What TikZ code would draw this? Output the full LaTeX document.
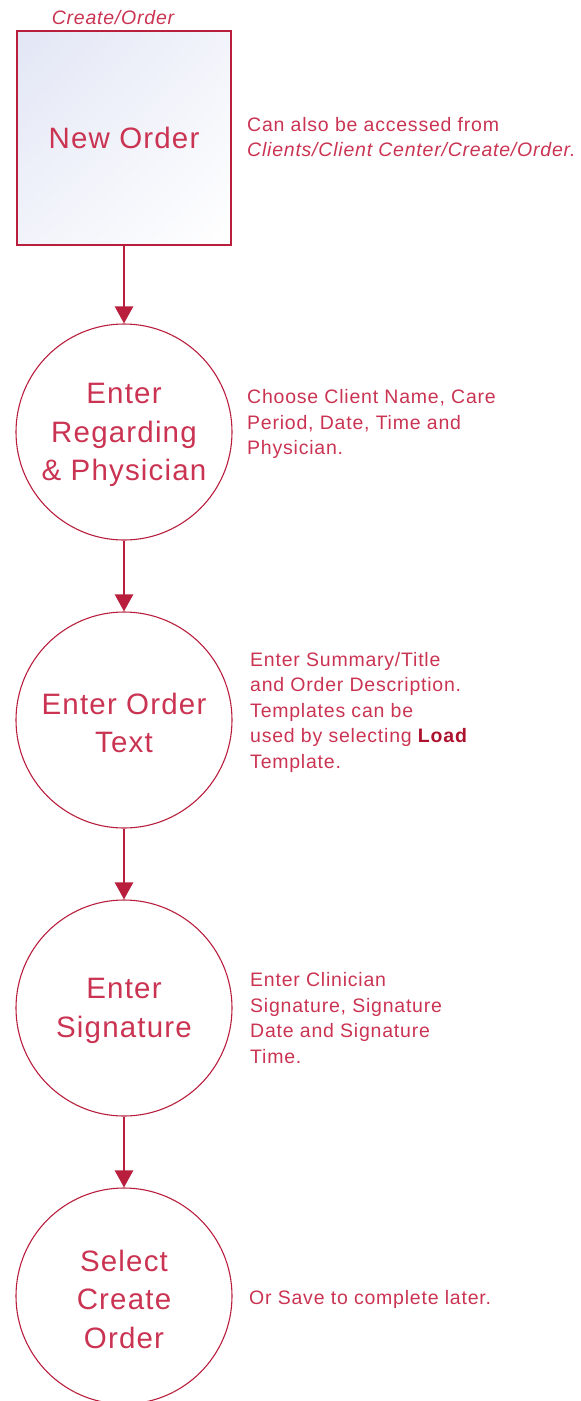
\documentclass[tikz,border=0pt]{standalone}
\usepackage{fontspec}
\setmainfont{Liberation Sans}[LetterSpace=4]
\usetikzlibrary{arrows.meta,shadings}
\definecolor{ordline}{RGB}{185,30,60}
\definecolor{ordtext}{RGB}{202,52,82}
\definecolor{ordbold}{RGB}{172,18,46}
\definecolor{ordfill}{RGB}{226,230,245}
\newcommand{\bigtxt}{\fontsize{29.5}{38.5}\selectfont}
\newcommand{\smalltxt}{\fontsize{19.5}{25.5}\selectfont}
\tikzset{
  startbox/.style={draw=ordline, line width=2pt, minimum size=214pt, inner sep=0pt,
    upper left=ordfill, upper right=ordfill!45, lower left=ordfill!45, lower right=white,
    text=ordtext, font=\bigtxt},
  stepcirc/.style={circle, draw=ordline, line width=1.1pt, minimum size=216pt, inner sep=0pt},
  steptxt/.style={align=center, inner sep=0pt, yshift=-3pt, text=ordtext, font=\bigtxt},
  note/.style={anchor=west, align=left, inner sep=0pt, text=ordtext, font=\smalltxt},
  flow/.style={-{Triangle[width=18pt,length=17pt]}, draw=ordline, fill=ordline, line width=2.4pt}
}
\begin{document}
\begin{tikzpicture}[x=1pt, y=-1pt]
\useasboundingbox (0,0) rectangle (581,1401);
% steps
\node[startbox] (neworder) at (124,138) {New Order};
\node[stepcirc, label={[steptxt]center:Enter\\Regarding\\\& Physician}] (regard) at (124,432) {};
\node[stepcirc, label={[steptxt]center:Enter Order\\Text}] (ordtxt) at (124,720) {};
\node[stepcirc, label={[steptxt]center:Enter\\Signature}] (sign) at (124,1008) {};
\node[stepcirc, label={[steptxt]center:Select\\Create\\Order}] (create) at (124,1296) {};
% path label
\node[inner sep=0pt, text=ordtext, font=\smalltxt\itshape] (menu) at (113,18) {Create/Order};
% notes
\node[note] (n1) at (247,137) {Can also be accessed from\\\textit{Clients/Client Center/Create/Order.}};
\node[note] (n2) at (247,424) {Choose Client Name, Care\\Period, Date, Time and\\Physician.};
\node[note] (n3) at (250,712) {Enter Summary/Title\\and Order Description.\\Templates can be\\used by selecting {\color{ordbold}\bfseries Load}\\Template.};
\node[note] (n4) at (250,1018) {Enter Clinician\\Signature, Signature\\Date and Signature\\Time.};
\node[note] (n5) at (249,1299) {Or Save to complete later.};
% arrows
\draw[flow] (neworder) -- (regard);
\draw[flow] (regard) -- (ordtxt);
\draw[flow] (ordtxt) -- (sign);
\draw[flow] (sign) -- (create);
\end{tikzpicture}
\end{document}
